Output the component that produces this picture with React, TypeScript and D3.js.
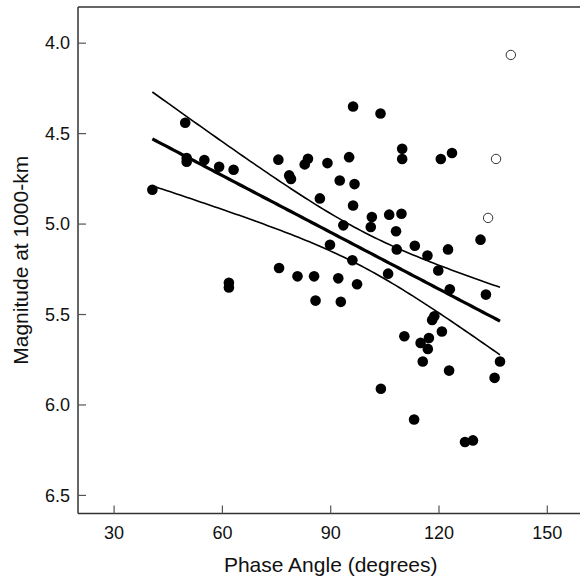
import React from "react";
import * as d3 from "d3";

// Filled points: phase angle (deg), magnitude
const phaseFilled = [
  40.6, 49.7, 50.1, 50.1, 55.0, 59.1, 63.1, 61.8, 61.8, 75.5,
  75.7, 78.5, 79.0, 80.8, 82.8, 83.7, 85.4, 85.8, 87.0, 89.1,
  89.8, 92.1, 92.5, 92.8, 93.5, 95.1, 96.0, 96.2, 96.2, 96.6,
  97.3, 101.1, 101.4, 103.8, 103.9, 105.9, 106.2, 108.1, 108.3, 109.8,
  109.8, 109.6, 110.4, 113.3, 113.1, 114.9, 115.5, 116.8, 116.9, 117.2,
  118.1, 118.7, 119.8, 120.5, 120.8, 122.5, 122.8, 123.0, 123.6, 127.2,
  129.4, 131.5, 133.0, 135.4, 136.9,
];
const magFilled = [
  4.81, 4.44, 4.635, 4.655, 4.646, 4.683, 4.70, 5.325, 5.35, 4.644,
  5.243, 4.731, 4.751, 5.289, 4.67, 4.639, 5.289, 5.423, 4.858, 4.663,
  5.114, 5.30, 4.759, 5.43, 5.007, 4.63, 5.20, 4.35, 4.897, 4.779,
  5.333, 5.016, 4.961, 4.389, 5.91, 5.274, 4.948, 5.04, 5.14, 4.584,
  4.64, 4.943, 5.62, 5.12, 6.08, 5.657, 5.76, 5.174, 5.69, 5.63,
  5.53, 5.51, 5.257, 4.64, 5.594, 5.14, 5.81, 5.36, 4.607, 6.205,
  6.196, 5.086, 5.39, 5.85, 5.76,
];
// Open (excluded) points
const phaseOpen = [139.9, 135.8, 133.6];
const magOpen = [4.065, 4.64, 4.966];

const xTicks = [30, 60, 90, 120, 150];
const yTicks = [4.0, 4.5, 5.0, 5.5, 6.0, 6.5];

const W = 580;
const H = 577;
const FONT = "Liberation Sans, Arial, sans-serif";

export default function App() {
  const x = d3.scaleLinear().domain([20, 160]).range([78, 583.4]);
  const y = d3.scaleLinear().domain([3.8, 6.6]).range([7, 513.5]);

  // OLS fit on filled points with 95% confidence band of the mean
  const n = phaseFilled.length;
  const xm = d3.mean(phaseFilled) as number;
  const ym = d3.mean(magFilled) as number;
  let sxx = 0, sxy = 0;
  for (let i = 0; i < n; i++) {
    sxx += (phaseFilled[i] - xm) ** 2;
    sxy += (phaseFilled[i] - xm) * (magFilled[i] - ym);
  }
  const b = sxy / sxx;
  const a = ym - b * xm;
  let sse = 0;
  for (let i = 0; i < n; i++) sse += (magFilled[i] - (a + b * phaseFilled[i])) ** 2;
  const s = Math.sqrt(sse / (n - 2));
  const t = 1.998;
  const [x0, x1] = d3.extent(phaseFilled) as [number, number];
  const grid = d3.range(0, 101).map((i) => x0 + ((x1 - x0) * i) / 100);
  const fit = (v: number) => a + b * v;
  const half = (v: number) => t * s * Math.sqrt(1 / n + (v - xm) ** 2 / sxx);

  const fitPath = d3.line<number>().x((v) => x(v)).y((v) => y(fit(v)))(grid) as string;
  const upPath = d3.line<number>().x((v) => x(v)).y((v) => y(fit(v) - half(v)))(grid) as string;
  const loPath = d3.line<number>().x((v) => x(v)).y((v) => y(fit(v) + half(v)))(grid) as string;

  const [px0, px1] = x.range();
  const [py0, py1] = y.range();

  return (
    <svg
      width={W}
      height={H}
      style={{ position: "absolute", left: 0, top: 0, background: "#fff" }}
      fontFamily={FONT}
    >
      <rect x={0} y={0} width={W} height={H} fill="#fff" />
      {/* frame: left, top, bottom (right edge lies beyond the view) */}
      <line x1={px0} x2={px1} y1={py0} y2={py0} stroke="#333" strokeWidth={1.5} />
      <line x1={px0} x2={px1} y1={py1} y2={py1} stroke="#333" strokeWidth={1.5} />
      <line x1={px0} x2={px0} y1={py0} y2={py1} stroke="#333" strokeWidth={1.5} />
      {/* y ticks */}
      {yTicks.map((v) => (
        <g key={"y" + v}>
          <line x1={px0} x2={px0 + 8} y1={y(v)} y2={y(v)} stroke="#555" strokeWidth={1.2} />
          <text x={px0 - 8} y={y(v)} dy="0.35em" textAnchor="end" fontSize={18} fill="#111">
            {v.toFixed(1)}
          </text>
        </g>
      ))}
      {/* x ticks */}
      {xTicks.map((v) => (
        <g key={"x" + v}>
          <line x1={x(v)} x2={x(v)} y1={py1} y2={py1 - 8} stroke="#555" strokeWidth={1.2} />
          <text x={x(v)} y={539} textAnchor="middle" fontSize={18} fill="#111">
            {v}
          </text>
        </g>
      ))}
      {/* axis titles */}
      <text x={(px0 + px1) / 2} y={572} textAnchor="middle" fontSize={21} fill="#111">
        Phase Angle (degrees)
      </text>
      <text
        transform={`translate(28,${(py0 + py1) / 2}) rotate(-90)`}
        textAnchor="middle"
        fontSize={21}
        fill="#111"
      >
        Magnitude at 1000-km
      </text>
      {/* regression and confidence band */}
      <path d={upPath} fill="none" stroke="#000" strokeWidth={1.6} />
      <path d={loPath} fill="none" stroke="#000" strokeWidth={1.6} />
      <path d={fitPath} fill="none" stroke="#000" strokeWidth={3.2} />
      {/* filled points */}
      {phaseFilled.map((v, i) => (
        <circle key={"f" + i} cx={x(v)} cy={y(magFilled[i])} r={5.3} fill="#000" />
      ))}
      {/* open points */}
      {phaseOpen.map((v, i) => (
        <circle
          key={"o" + i}
          cx={x(v)}
          cy={y(magOpen[i])}
          r={4.7}
          fill="#fff"
          stroke="#333"
          strokeWidth={1}
        />
      ))}
    </svg>
  );
}
